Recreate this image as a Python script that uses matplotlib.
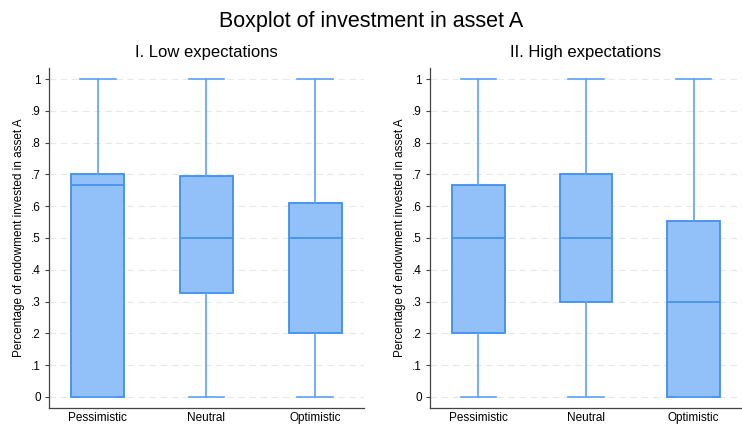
import matplotlib.pyplot as plt

plt.rcParams["font.family"] = ["Liberation Sans", "DejaVu Sans"]

groups = ["Pessimistic", "Neutral", "Optimistic"]
panels = ["I. Low expectations", "II. High expectations"]

# box stats per panel: min, q1, median, q3, max
low_min = [0, 0, 0]
low_q1 = [0, 0.327, 0.2]
low_med = [0.667, 0.5, 0.5]
low_q3 = [0.7, 0.695, 0.61]
low_max = [1, 1, 1]

high_min = [0, 0, 0]
high_q1 = [0.2, 0.3, 0]
high_med = [0.5, 0.5, 0.3]
high_q3 = [0.667, 0.7, 0.555]
high_max = [1, 1, 1]

yticks = [0, .1, .2, .3, .4, .5, .6, .7, .8, .9, 1]
ytick_labels = ["0", ".1", ".2", ".3", ".4", ".5", ".6", ".7", ".8", ".9", "1"]

fill = "#92c1fa"
edge = "#3f8ff0"
whisk = "#5aa2f7"


def make_stats(mins, q1s, meds, q3s, maxs):
    stats = []
    for i, g in enumerate(groups):
        stats.append({"label": g, "whislo": mins[i], "q1": q1s[i], "med": meds[i],
                      "q3": q3s[i], "whishi": maxs[i], "fliers": []})
    return stats


fig = plt.figure(figsize=(7.42, 4.29), dpi=100)
fig.text(0.5, 0.95, "Boxplot of investment in asset A", ha="center", va="center", fontsize=15.5)

ax1 = fig.add_axes([49 / 742, 21 / 429, 315 / 742, 340 / 429])
ax2 = fig.add_axes([430 / 742, 21 / 429, 312 / 742, 340 / 429])

all_stats = [make_stats(low_min, low_q1, low_med, low_q3, low_max),
             make_stats(high_min, high_q1, high_med, high_q3, high_max)]

for ax, stats, title in zip([ax1, ax2], all_stats, panels):
    ax.bxp(stats, positions=[1, 2, 3], widths=0.49, patch_artist=True, showfliers=False,
           boxprops=dict(facecolor=fill, edgecolor=edge, linewidth=1.3),
           medianprops=dict(color=edge, linewidth=1.2),
           whiskerprops=dict(color=whisk, linewidth=1.2),
           capprops=dict(color=whisk, linewidth=1.2),
           capwidths=0.33, zorder=3)
    ax.set_xlim(0.55, 3.45)
    ax.set_ylim(-0.035, 1.035)
    ax.set_yticks(yticks)
    ax.set_yticklabels(ytick_labels, fontsize=8.5)
    ax.set_xticks([1, 2, 3])
    ax.set_xticklabels(groups, fontsize=8.5)
    ax.tick_params(axis="x", length=0, pad=3)
    ax.tick_params(axis="y", length=3, width=0.8, color="#444444", pad=3)
    ax.grid(axis="y", linestyle=(0, (6, 4)), color="#e8e8e8", linewidth=0.8, zorder=0)
    ax.set_axisbelow(True)
    for s in ["top", "right"]:
        ax.spines[s].set_visible(False)
    for s in ["left", "bottom"]:
        ax.spines[s].set_color("#444444")
        ax.spines[s].set_linewidth(0.9)
    ax.set_ylabel("Percentage of endowment invested in asset A", fontsize=8.5, labelpad=4)
    ax.set_title(title, fontsize=12, pad=8)

fig.savefig("out.png", dpi=100)
